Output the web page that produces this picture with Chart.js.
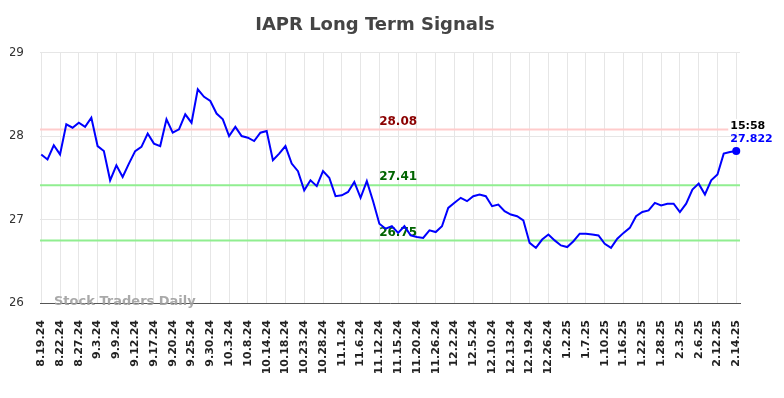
<!DOCTYPE html>
<html>
<head>
<meta charset="utf-8">
<title>IAPR Long Term Signals</title>
<script src="https://cdn.jsdelivr.net/npm/chart.js@4.4.1/dist/chart.umd.min.js"></script>
<style>
  html, body { margin: 0; padding: 0; background: #ffffff; }
  #wrap { width: 784px; height: 398px; }
</style>
</head>
<body>
<div id="wrap"><canvas id="signalChart" width="784" height="398"></canvas></div>
<script>
// x tick labels, one every 3 points
const tickLabels = [
  "8.19.24", "8.22.24", "8.27.24", "9.3.24", "9.9.24", "9.12.24", "9.17.24", "9.20.24",
  "9.25.24", "9.30.24", "10.3.24", "10.8.24", "10.14.24", "10.18.24", "10.23.24", "10.28.24",
  "11.1.24", "11.6.24", "11.12.24", "11.15.24", "11.20.24", "11.26.24", "12.2.24", "12.5.24",
  "12.10.24", "12.13.24", "12.19.24", "12.26.24", "1.2.25", "1.7.25", "1.10.25", "1.16.25",
  "1.22.25", "1.28.25", "2.3.25", "2.6.25", "2.12.25", "2.14.25"
];
const pointsPerTick = 3;

// closing prices
const prices = [
  27.78, 27.72, 27.89, 27.78, 28.14, 28.10, 28.16, 28.11, 28.22, 27.88,
  27.82, 27.47, 27.65, 27.51, 27.67, 27.82, 27.87, 28.03, 27.91, 27.88,
  28.20, 28.04, 28.08, 28.26, 28.16, 28.56, 28.47, 28.42, 28.27, 28.20,
  28.00, 28.11, 28.00, 27.98, 27.94, 28.04, 28.06, 27.71, 27.79, 27.88,
  27.67, 27.58, 27.35, 27.47, 27.40, 27.58, 27.50, 27.28, 27.29, 27.33,
  27.45, 27.26, 27.46, 27.22, 26.95, 26.89, 26.92, 26.84, 26.92, 26.81,
  26.79, 26.78, 26.87, 26.85, 26.92, 27.14, 27.20, 27.26, 27.22, 27.28,
  27.30, 27.28, 27.16, 27.18, 27.10, 27.06, 27.04, 26.99, 26.72, 26.66,
  26.76, 26.82, 26.75, 26.69, 26.67, 26.74, 26.83, 26.83, 26.82, 26.81,
  26.71, 26.66, 26.77, 26.84, 26.90, 27.04, 27.09, 27.11, 27.20, 27.17,
  27.19, 27.19, 27.09, 27.19, 27.36, 27.43, 27.30, 27.47, 27.54, 27.79,
  27.81, 27.822
];

// signal levels: resistance, then two supports
const resistanceLevel = 28.08;
const supportLevels = [27.41, 26.75];
const lastTime = "15:58";
const labelIndex = 57; // data index the level labels sit over

const yTicks = [26, 27, 28, 29];

const FONT = "'DejaVu Sans', sans-serif";
const gridColor = "#e6e6e6";

const levelPlugin = {
  id: "levels",
  beforeDatasetsDraw(chart) {
    const { ctx, chartArea, scales } = chart;
    const levels = [
      { value: resistanceLevel, line: "#ffcccc", text: "#8b0000" },
      { value: supportLevels[0], line: "#90ee90", text: "#006400" },
      { value: supportLevels[1], line: "#90ee90", text: "#006400" }
    ];
    const tx = scales.x.getPixelForValue(labelIndex);
    ctx.save();
    levels.forEach(l => {
      const y = scales.y.getPixelForValue(l.value);
      ctx.strokeStyle = l.line;
      ctx.lineWidth = 2;
      ctx.beginPath();
      ctx.moveTo(chartArea.left, y);
      ctx.lineTo(chartArea.right, y);
      ctx.stroke();
      ctx.fillStyle = l.text;
      ctx.font = "bold 12px " + FONT;
      ctx.textAlign = "center";
      ctx.textBaseline = "middle";
      ctx.fillText(l.value.toFixed(2), tx, y - 8);
    });
    ctx.restore();
  },
  afterDatasetsDraw(chart) {
    const { ctx } = chart;
    const meta = chart.getDatasetMeta(0);
    const last = meta.data[meta.data.length - 1];
    const x = last.x - 6;
    ctx.save();
    ctx.font = "bold 11px " + FONT;
    ctx.textAlign = "left";
    ctx.textBaseline = "middle";
    const w = ctx.measureText(lastTime).width;
    ctx.fillStyle = "#ffffff";
    ctx.fillRect(x - 2, last.y - 32, w + 4, 13);
    ctx.fillStyle = "#000000";
    ctx.fillText(lastTime, x, last.y - 25);
    ctx.fillStyle = "#0000ff";
    ctx.fillText(prices[prices.length - 1].toFixed(3), x, last.y - 12);
    ctx.restore();
  },
  afterDraw(chart) {
    const { ctx, chartArea } = chart;
    ctx.save();
    ctx.font = "bold 13px " + FONT;
    ctx.fillStyle = "rgba(160, 160, 160, 0.9)";
    ctx.textAlign = "left";
    ctx.textBaseline = "middle";
    ctx.fillText("Stock Traders Daily", chartArea.left + 14, chartArea.bottom - 1);
    ctx.restore();
  }
};

const ctx = document.getElementById("signalChart");

new Chart(ctx, {
  type: "line",
  data: {
    datasets: [
      {
        label: "IAPR",
        data: prices.map((v, i) => ({ x: i, y: v })),
        borderColor: "#0000ff",
        backgroundColor: "#0000ff",
        borderWidth: 2,
        tension: 0,
        pointRadius: c => (c.dataIndex === prices.length - 1 ? 4 : 0),
        pointBackgroundColor: "#0000ff",
        pointBorderWidth: 0,
        clip: false
      }
    ]
  },
  options: {
    responsive: false,
    animation: false,
    layout: {
      padding: { left: 10, right: 44, top: 0, bottom: 0 }
    },
    scales: {
      x: {
        type: "linear",
        min: -0.2,
        max: (tickLabels.length - 1) * pointsPerTick + 0.6,
        afterBuildTicks: scale => {
          scale.ticks = tickLabels.map((_, k) => ({ value: k * pointsPerTick }));
        },
        afterFit: scale => {
          scale.height = 95;
        },
        grid: {
          color: gridColor,
          drawTicks: false
        },
        border: {
          color: "#555555",
          width: 1
        },
        ticks: {
          autoSkip: false,
          minRotation: 90,
          maxRotation: 90,
          padding: 17,
          color: "#222222",
          font: { family: FONT, size: 11, weight: "bold" },
          callback: function(value, index) {
            return tickLabels[index];
          }
        }
      },
      y: {
        min: yTicks[0],
        max: yTicks[yTicks.length - 1],
        afterBuildTicks: scale => {
          scale.ticks = yTicks.map(v => ({ value: v }));
        },
        afterFit: scale => {
          scale.width = 30;
        },
        grid: {
          color: gridColor,
          drawTicks: false
        },
        border: {
          display: false
        },
        ticks: {
          padding: 16,
          color: "#333333",
          font: { family: FONT, size: 12 }
        }
      }
    },
    plugins: {
      legend: { display: false },
      tooltip: { enabled: false },
      title: {
        display: true,
        text: "IAPR Long Term Signals",
        color: "#444444",
        font: { family: FONT, size: 18, weight: "bold" },
        padding: { top: 15, bottom: 16 }
      }
    }
  },
  plugins: [levelPlugin]
});
</script>
</body>
</html>
